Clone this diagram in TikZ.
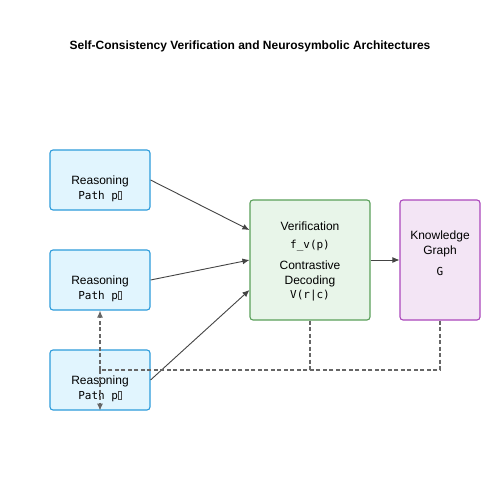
\documentclass[tikz,border=0pt]{standalone}
\usepackage{fontspec}
\setmainfont{Liberation Sans}
\setmonofont{DejaVu Sans Mono}
\usetikzlibrary{arrows.meta}
\definecolor{rfill}{HTML}{E1F5FE}
\definecolor{rdraw}{HTML}{2D9CDB}
\definecolor{vfill}{HTML}{E8F5E9}
\definecolor{vdraw}{HTML}{5AA05A}
\definecolor{kfill}{HTML}{F3E5F5}
\definecolor{kdraw}{HTML}{AB47BC}
\definecolor{arr}{HTML}{444444}
\definecolor{dsh}{HTML}{666666}
\newcommand{\tofu}{\tikz[baseline=0pt]\draw[line width=0.3pt, draw=black!70] (0.3pt,0) rectangle (3.6pt,7.5pt);}
\tikzset{
  box/.style={draw, rounded corners=3pt, line width=1.1pt, inner sep=0pt},
  rbox/.style={box, fill=rfill, draw=rdraw, minimum width=100pt, minimum height=60pt},
  vbox/.style={box, fill=vfill, draw=vdraw, minimum width=120pt, minimum height=120pt},
  kbox/.style={box, fill=kfill, draw=kdraw, minimum width=80pt, minimum height=120pt},
  flow/.style={draw=arr, line width=0.9pt, -{Latex[length=7pt,width=6pt]}},
  fb/.style={draw=dsh, line width=1.1pt, dash pattern=on 4pt off 2.5pt},
  fbarr/.style={fb, -{Latex[length=7pt,width=6pt]}},
  lbl/.style={font=\fontsize{12pt}{14pt}\selectfont, inner sep=0pt},
  mlbl/.style={font=\ttfamily\fontsize{11pt}{12pt}\selectfont, inner sep=0pt},
}
\begin{document}
\begin{tikzpicture}[x=1pt,y=-1pt]
\useasboundingbox (0,0) rectangle (500,500);
\fill[white] (0,0) rectangle (500,500);
\node[lbl, font=\bfseries\fontsize{12pt}{14pt}\selectfont] (title) at (250,46) {Self-Consistency Verification and Neurosymbolic Architectures};

\node[rbox] (r1) at (100,180) {};
\node[rbox] (r2) at (100,280) {};
\node[rbox] (r3) at (100,380) {};
\foreach \n/\y in {r1/180, r2/280, r3/380}{
  \node[lbl] (\n a) at (100,\y+1) {Reasoning};
  \node[mlbl] (\n b) at (100,\y+16) {Path p\tofu};
}

\node[vbox] (v) at (310,260) {};
\node[lbl] (v1) at (310,226) {Verification};
\node[mlbl] (v2) at (310,246) {f\_v(p)};
\node[lbl] (v3) at (310,265) {Contrastive};
\node[lbl] (v4) at (310,281) {Decoding};
\node[mlbl] (v5) at (310,296) {V(r|c)};

\node[kbox] (k) at (440,260) {};
\node[lbl] (k1) at (440,236) {Knowledge};
\node[lbl] (k2) at (440,251) {Graph};
\node[mlbl] (k3) at (440,271) {G};

\draw[flow] (r1.east) -- (v.west |- 0,230);
\draw[flow] (r2.east) -- (v.west |- 0,260);
\draw[flow] (r3.east) -- (v.west |- 0,290);
\draw[flow] (v.east) -- (k.west);

\coordinate (j1) at (310,370);
\coordinate (j2) at (440,370);
\coordinate (j0) at (100,370);
\draw[fb] (v.south) -- (j1) -- (j0);
\draw[fb] (k.south) -- (j2) -- (j1);
\draw[fbarr] (j0) -- (r2.south);
\draw[fbarr] (j0) -- (r3.south);
\end{tikzpicture}
\end{document}
